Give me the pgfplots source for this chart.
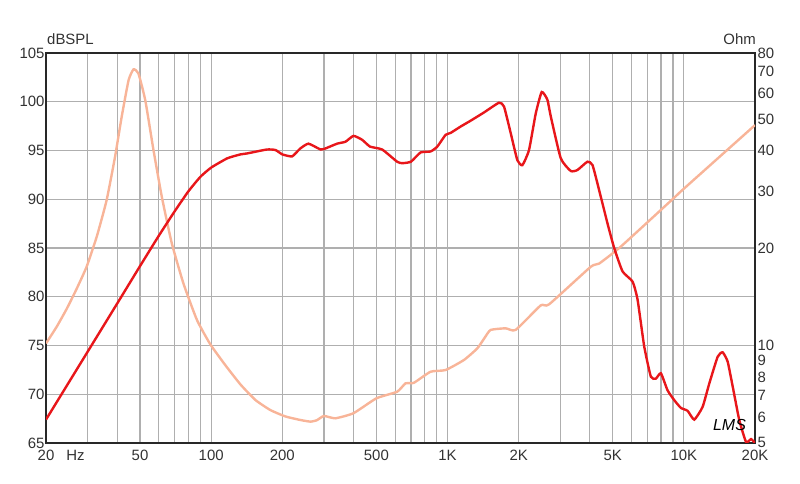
\documentclass[border=0pt]{standalone}
\usepackage{fontspec}
\setmainfont{Liberation Sans}
\usepackage{pgfplots}
\pgfplotsset{compat=1.18}
\usetikzlibrary{calc}
\definecolor{splred}{RGB}{232,22,26}
\definecolor{imppink}{RGB}{248,180,152}
\definecolor{gridgray}{RGB}{175,175,175}
\definecolor{axisdark}{RGB}{40,40,40}
\definecolor{labelgray}{RGB}{50,50,50}
\begin{document}
\begin{tikzpicture}
\pgfplotsset{every axis/.append style={font=\fontsize{15}{17}\selectfont},
  /pgf/number format/assume math mode=true}
% axis 1: dB grid, labels, frame
\begin{axis}[name=ax, scale only axis, width=709bp, height=390bp,
  xmode=log, xmin=20, xmax=20000, ymin=65, ymax=105,
  xtick={20,50,100,200,500,1000,2000,5000,10000,20000},
  xticklabels={{20\rlap{\hspace{12bp}Hz}},50,100,200,500,1K,2K,5K,10K,20K},
  minor xtick={30,40,60,70,80,90,300,400,600,700,800,900,3000,4000,6000,7000,8000,9000},
  ytick={65,70,75,80,85,90,95,100,105},
  yticklabels={65,70,75,80,85,90,95,100,105},
  xmajorgrids, xminorgrids, ymajorgrids,
  major grid style={gridgray, line width=1.2bp},
  minor grid style={gridgray, line width=1.2bp},
  major tick length=0pt, minor tick length=0pt,
  axis line style={axisdark, line width=2.2bp},
  tick label style={labelgray},
  xticklabel style={yshift=-4bp},
  yticklabel style={xshift=2bp},
  ytick pos=left, xtick pos=bottom,
]
\addplot[draw=none] coordinates {(20,65)};
\end{axis}
% axis 2: impedance on right
\begin{axis}[scale only axis, width=709bp, height=390bp,
  xmode=log, xmin=20, xmax=20000,
  ymode=log, ymin=5, ymax=80,
  axis y line*=right, hide x axis,
  ytick={5,6,7,8,9,10,20,30,40,50,60,70,80},
  yticklabels={\raisebox{2bp}{5},6,7,8,9,10,20,30,40,50,60,70,80},
  minor ytick={},
  major tick length=0pt, minor tick length=0pt,
  axis line style={axisdark, line width=2.2bp},
  tick label style={labelgray},
  yticklabel style={xshift=-1bp},
]
\addplot[imppink, line width=2.4bp, smooth, tension=0.3] coordinates {
(20,10.15) (22.2,11.43) (24.5,13.0) (27,15.0) (29.7,17.5) (32.8,21.7) (36.1,28.1) (39.2,38.3)
(41.8,50.8) (44.7,65.9) (46.9,71.2) (49.2,69.2) (52.6,57.2) (57,40.1)
(61.8,28.8) (68.1,20.7) (76.3,15.55) (87,12.0) (99,10.1) (114.7,8.70)
(133,7.58) (153.8,6.79) (177.9,6.32) (205.9,6.04) (238,5.89) (262.8,5.82) (280,5.88) (300,6.06)
(335,5.96) (400,6.18) (500,6.87) (612,7.2) (664,7.64) (720,7.67)
(848,8.3) (981,8.4) (1173,9.02) (1337,9.8) (1440,10.6) (1522,11.17) (1762,11.3)
(1942,11.17) (2479,13.3) (2690,13.4) (4036,17.5) (4378,17.9) (5410,20.2)
(8960,28.3) (10030,30.55) (20000,47.9)
};
\end{axis}
% axis 3: SPL curve on top
\begin{axis}[scale only axis, width=709bp, height=390bp,
  xmode=log, xmin=20, xmax=20000, ymin=65, ymax=105,
  axis lines=none]
\addplot[splred, line width=2.4bp, smooth, tension=0.3] coordinates {
(20,67.4) (30,74.36) (40,79.3) (50,83.15) (60,86.25) (70,88.75) (80,90.8)
(90,92.3) (100,93.25) (117,94.2) (133,94.6) (142,94.7) (172,95.1)
(187,95.05) (200,94.6) (220,94.4) (238,95.2) (258,95.7) (290,95.1)
(300,95.15) (341,95.7) (370,95.9) (400,96.5) (435,96.1) (470,95.4)
(529,95.1) (612,93.85) (643,93.7) (700,93.85) (769,94.8) (848,94.9)
(905,95.4) (981,96.6) (1030,96.8) (1135,97.45) (1253,98.06) (1426,98.9)
(1651,99.9) (1734,99.5) (1850,96.8) (1975,94.0) (2074,93.5) (2212,95.05)
(2362,98.8) (2503,101.0) (2646,100.2) (2734,98.5) (3014,94.2) (3321,92.9)
(3546,93.0) (3909,93.85) (4107,93.5) (4378,90.95) (4754,87.5) (5071,85.0)
(5502,82.6) (6068,81.55) (6370,79.7) (6796,74.9) (7250,71.8) (7612,71.6)
(7996,72.15) (8531,70.4) (9101,69.4) (9713,68.6) (10370,68.3) (11064,67.4)
(12000,68.7) (12808,71.1) (13900,73.85) (14590,74.3) (15320,73.35)
(16090,70.8) (17160,67.35) (18330,65.1) (19240,65.4) (20000,65.0)
};
\node[font=\itshape\fontsize{16}{16}\selectfont, black] at (axis cs:15600,66.8) {LMS};
\end{axis}
\node[anchor=base west, labelgray, inner sep=0pt, font=\fontsize{15}{17}\selectfont] at ($(ax.north west)+(1bp,8bp)$) {dBSPL};
\node[anchor=base east, labelgray, inner sep=0pt, font=\fontsize{15}{17}\selectfont] at ($(ax.north east)+(1bp,8bp)$) {Ohm};
\pgfresetboundingbox
\path ($(ax.south west)+(-46bp,-41bp)$) rectangle ($(ax.north east)+(45bp,53bp)$);
\end{tikzpicture}
\end{document}
